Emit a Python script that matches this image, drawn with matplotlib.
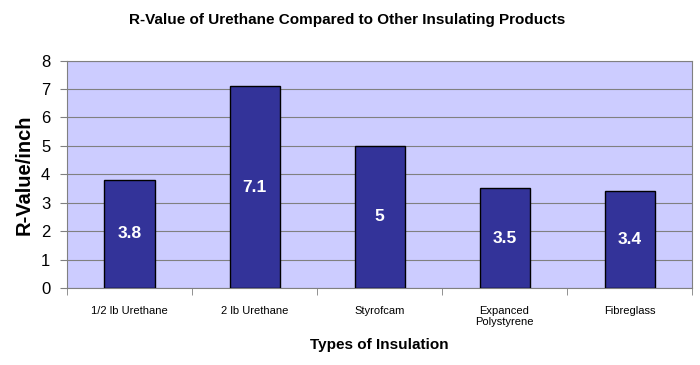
import matplotlib.pyplot as plt
import numpy as np

plt.rcParams['font.family'] = ['Liberation Sans', 'DejaVu Sans']

# data
categories = ['1/2 lb Urethane', '2 lb Urethane', 'Styrofcam', 'Expanced\nPolystyrene', 'Fibreglass']
values = [3.8, 7.1, 5, 3.5, 3.4]
labels = ['3.8', '7.1', '5', '3.5', '3.4']

fig = plt.figure(figsize=(7, 3.65), dpi=100)
ax = fig.add_axes([0.0957, 0.211, 0.893, 0.623])
ax.set_facecolor('#CCCCFF')

x = np.arange(len(categories))
bars = ax.bar(x, values, width=0.4, color='#333399', edgecolor='black', linewidth=1, zorder=3)
for b, lab in zip(bars, labels):
    ax.text(b.get_x() + b.get_width() / 2, b.get_height() / 2, lab, ha='center', va='center',
            color='white', fontsize=12.5, fontweight='bold', zorder=4)

ax.set_xlim(-0.5, len(categories) - 0.5)
ax.set_ylim(0, 8)
ax.set_yticks(range(0, 9))
ax.yaxis.grid(True, color='#808080', linewidth=0.8, zorder=1)
ax.tick_params(axis='y', labelsize=12, length=5, color='#808080', pad=7)

ax.set_xticks(x)
ax.set_xticklabels(categories, fontsize=8, linespacing=1.1)
ax.set_xticks(np.arange(-0.5, len(categories)), minor=True)
ax.tick_params(axis='x', which='major', length=0, pad=13)
ax.tick_params(axis='x', which='minor', length=5, color='#808080')

for s in ax.spines.values():
    s.set_color('#808080')

ax.set_ylabel('R-Value/inch', fontsize=14.5, fontweight='bold', labelpad=5)
ax.set_xlabel('Types of Insulation', fontsize=11, fontweight='bold', labelpad=8)
fig.text(0.496, 0.945, 'R-Value of Urethane Compared to Other Insulating Products',
         ha='center', va='center', fontsize=11, fontweight='bold')

plt.savefig('out.png')
